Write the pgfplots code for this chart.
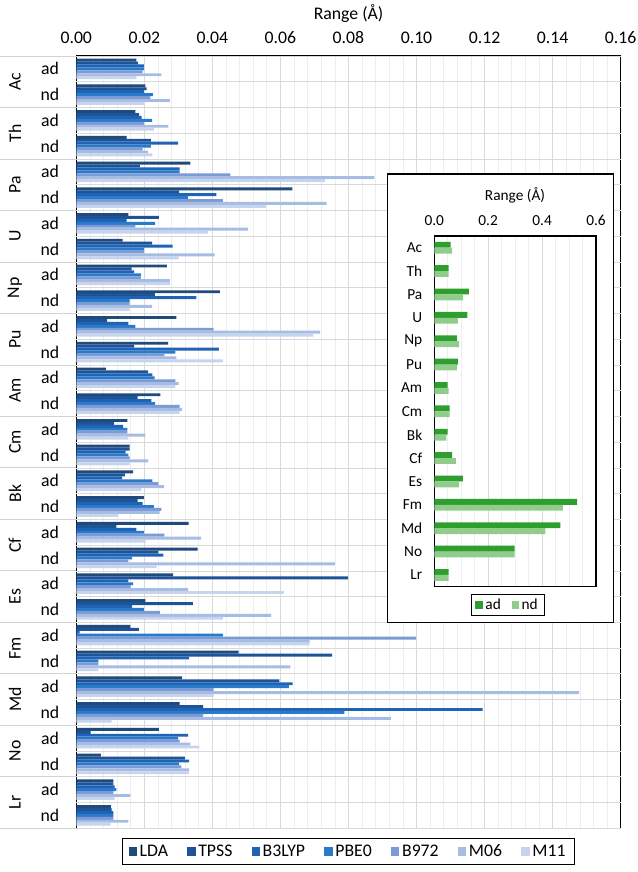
\documentclass[border=0pt]{standalone}
\usepackage{fontspec}
\setmainfont{Carlito}
\usepackage{pgfplots}
\pgfplotsset{compat=1.18}
\usepackage{pgfplotstable}

\definecolor{cLDA}{HTML}{1F4A7C}
\definecolor{cTPSS}{HTML}{1E5398}
\definecolor{cBL}{HTML}{1F63B5}
\definecolor{cPBE}{HTML}{2A7ACC}
\definecolor{cB97}{HTML}{7B9AD6}
\definecolor{cMA}{HTML}{A7BCE3}
\definecolor{cMB}{HTML}{C6D4EE}
\definecolor{gad}{HTML}{2E9E2E}
\definecolor{gnd}{HTML}{90CC8C}

% y: 29 = Ac ad (top) ... 0 = Lr nd (bottom)
\pgfplotstableread{
y LDA TPSS B3LYP PBE0 B972 M06 M11
29 0.0177 0.0182 0.0199 0.0199 0.0195 0.0250 0.0177
28 0.0203 0.0207 0.0199 0.0225 0.0218 0.0275 0.0199
27 0.0174 0.0185 0.0192 0.0223 0.0199 0.0271 0.0228
26 0.0148 0.0219 0.0299 0.0219 0.0195 0.0211 0.0224
25 0.0335 0.0187 0.0304 0.0304 0.0453 0.0876 0.0731
24 0.0635 0.0302 0.0412 0.0329 0.0431 0.0736 0.0558
23 0.0153 0.0243 0.0148 0.0232 0.0174 0.0505 0.0387
22 0.0136 0.0223 0.0283 0.0199 0.0199 0.0407 0.0301
21 0.0266 0.0163 0.0170 0.0190 0.0190 0.0275 0.0275
20 0.0422 0.0231 0.0353 0.0157 0.0157 0.0223 0.0157
19 0.0294 0.0091 0.0153 0.0174 0.0404 0.0717 0.0697
18 0.0270 0.0170 0.0419 0.0291 0.0259 0.0294 0.0431
17 0.0087 0.0211 0.0224 0.0230 0.0291 0.0301 0.0291
16 0.0247 0.0180 0.0221 0.0232 0.0304 0.0311 0.0304
15 0.0150 0.0111 0.0138 0.0150 0.0150 0.0203 0.0153
14 0.0157 0.0157 0.0145 0.0153 0.0157 0.0211 0.0157
13 0.0167 0.0143 0.0135 0.0224 0.0241 0.0258 0.0191
12 0.0199 0.0180 0.0195 0.0228 0.0250 0.0245 0.0124
11 0.0330 0.0118 0.0177 0.0199 0.0259 0.0367 0.0204
10 0.0357 0.0241 0.0256 0.0164 0.0153 0.0760 0.0236
9 0.0285 0.0798 0.0153 0.0167 0.0160 0.0329 0.0610
8 0.0203 0.0343 0.0164 0.0199 0.0246 0.0573 0.0431
7 0.0159 0.0184 0.0010 0.0431 0.0999 0.0686 0.0686
6 0.0477 0.0752 0.0332 0.0065 0.0065 0.0629 0.0065
5 0.0311 0.0597 0.0636 0.0625 0.0404 0.1478 0.0404
4 0.0304 0.0373 0.1194 0.0788 0.0373 0.0925 0.0104
3 0.0243 0.0042 0.0329 0.0299 0.0304 0.0335 0.0362
2 0.0072 0.0319 0.0332 0.0302 0.0309 0.0332 0.0332
1 0.0109 0.0109 0.0113 0.0118 0.0109 0.0159 0.0113
0 0.0102 0.0104 0.0109 0.0109 0.0109 0.0153 0.0101
}\maindata

% y: 14 = Ac ... 0 = Lr
\pgfplotstableread{
y ad nd
14 0.061 0.066
13 0.053 0.053
12 0.128 0.106
11 0.123 0.088
10 0.084 0.092
9 0.088 0.084
8 0.050 0.053
7 0.057 0.057
6 0.050 0.045
5 0.066 0.080
4 0.106 0.092
3 0.530 0.477
2 0.468 0.412
1 0.298 0.298
0 0.053 0.053
}\insetdata

\newcommand{\fmain}{\fontsize{13.3}{15}\selectfont}
\newcommand{\finset}{\fontsize{11.5}{13}\selectfont}

\begin{document}
\begin{tikzpicture}
\useasboundingbox (0pt,0pt) rectangle (477.75pt,-654pt);

\begin{axis}[
  at={(57.2pt,-42pt)}, anchor=north west,
  scale only axis, width=408.3pt, height=579.2pt,
  xmin=0, xmax=0.16, ymin=-0.5, ymax=29.5,
  xtick={0,0.02,...,0.16},
  xticklabel pos=upper,
  minor x tick num=4,
  xmajorgrids, xminorgrids,
  major grid style={draw=gray!30, line width=0.5pt},
  minor grid style={draw=gray!13, line width=0.5pt},
  ytick={0,...,29},
  yticklabels={nd,ad,nd,ad,nd,ad,nd,ad,nd,ad,nd,ad,nd,ad,nd,ad,nd,ad,nd,ad,nd,ad,nd,ad,nd,ad,nd,ad,nd,ad},
  extra y ticks={-0.5,0.5,...,29.5},
  extra y tick labels={},
  extra y tick style={grid=major, major grid style={draw=gray!30, line width=0.5pt}},
  major tick length=0pt, minor tick length=0pt,
  axis line style={black, line width=0.9pt},
  /pgf/number format/assume math mode=true,
  tick label style={font=\fmain},
  xticklabel style={/pgf/number format/fixed, /pgf/number format/fixed zerofill, /pgf/number format/precision=2, yshift=6pt},
  yticklabel style={anchor=center, xshift=-19.7pt},
  clip=false,
  legend columns=7,
  legend style={at={(0.5,-0.0126)}, anchor=north, draw=black, line width=0.8pt, font=\fmain,
    inner xsep=5pt, inner ysep=2.5pt,
    /tikz/every even column/.append style={column sep=12.5pt}},
  every axis plot post/.append style={legend image code/.code={\fill[##1] (0pt,-3.1pt) rectangle (6.2pt,3.1pt);}},
]
\addplot[xbar, bar width=2.2pt, bar shift=6.6pt, fill=cLDA, draw=none] table[x=LDA, y=y]{\maindata};
\addlegendentry{LDA}
\addplot[xbar, bar width=2.2pt, bar shift=4.4pt, fill=cTPSS, draw=none] table[x=TPSS, y=y]{\maindata};
\addlegendentry{TPSS}
\addplot[xbar, bar width=2.2pt, bar shift=2.2pt, fill=cBL, draw=none] table[x=B3LYP, y=y]{\maindata};
\addlegendentry{B3LYP}
\addplot[xbar, bar width=2.2pt, bar shift=0pt, fill=cPBE, draw=none] table[x=PBE0, y=y]{\maindata};
\addlegendentry{PBE0}
\addplot[xbar, bar width=2.2pt, bar shift=-2.2pt, fill=cB97, draw=none] table[x=B972, y=y]{\maindata};
\addlegendentry{B972}
\addplot[xbar, bar width=2.2pt, bar shift=-4.4pt, fill=cMA, draw=none] table[x=M06, y=y]{\maindata};
\addlegendentry{M06}
\addplot[xbar, bar width=2.2pt, bar shift=-6.6pt, fill=cMB, draw=none] table[x=M11, y=y]{\maindata};
\addlegendentry{M11}

\node[rotate=90, font=\fmain] at ([xshift=-46pt]axis cs:0,28.5) {Ac};
\node[rotate=90, font=\fmain] at ([xshift=-46pt]axis cs:0,26.5) {Th};
\node[rotate=90, font=\fmain] at ([xshift=-46pt]axis cs:0,24.5) {Pa};
\node[rotate=90, font=\fmain] at ([xshift=-46pt]axis cs:0,22.5) {U};
\node[rotate=90, font=\fmain] at ([xshift=-46pt]axis cs:0,20.5) {Np};
\node[rotate=90, font=\fmain] at ([xshift=-46pt]axis cs:0,18.5) {Pu};
\node[rotate=90, font=\fmain] at ([xshift=-46pt]axis cs:0,16.5) {Am};
\node[rotate=90, font=\fmain] at ([xshift=-46pt]axis cs:0,14.5) {Cm};
\node[rotate=90, font=\fmain] at ([xshift=-46pt]axis cs:0,12.5) {Bk};
\node[rotate=90, font=\fmain] at ([xshift=-46pt]axis cs:0,10.5) {Cf};
\node[rotate=90, font=\fmain] at ([xshift=-46pt]axis cs:0,8.5) {Es};
\node[rotate=90, font=\fmain] at ([xshift=-46pt]axis cs:0,6.5) {Fm};
\node[rotate=90, font=\fmain] at ([xshift=-46pt]axis cs:0,4.5) {Md};
\node[rotate=90, font=\fmain] at ([xshift=-46pt]axis cs:0,2.5) {No};
\node[rotate=90, font=\fmain] at ([xshift=-46pt]axis cs:0,0.5) {Lr};

\draw[gray!35, line width=0.6pt] (axis cs:0,29.5) -- ++(-57.2pt,0pt);
\draw[gray!35, line width=0.6pt] (axis cs:0,27.5) -- ++(-57.2pt,0pt);
\draw[gray!35, line width=0.6pt] (axis cs:0,25.5) -- ++(-57.2pt,0pt);
\draw[gray!35, line width=0.6pt] (axis cs:0,23.5) -- ++(-57.2pt,0pt);
\draw[gray!35, line width=0.6pt] (axis cs:0,21.5) -- ++(-57.2pt,0pt);
\draw[gray!35, line width=0.6pt] (axis cs:0,19.5) -- ++(-57.2pt,0pt);
\draw[gray!35, line width=0.6pt] (axis cs:0,17.5) -- ++(-57.2pt,0pt);
\draw[gray!35, line width=0.6pt] (axis cs:0,15.5) -- ++(-57.2pt,0pt);
\draw[gray!35, line width=0.6pt] (axis cs:0,13.5) -- ++(-57.2pt,0pt);
\draw[gray!35, line width=0.6pt] (axis cs:0,11.5) -- ++(-57.2pt,0pt);
\draw[gray!35, line width=0.6pt] (axis cs:0,9.5) -- ++(-57.2pt,0pt);
\draw[gray!35, line width=0.6pt] (axis cs:0,7.5) -- ++(-57.2pt,0pt);
\draw[gray!35, line width=0.6pt] (axis cs:0,5.5) -- ++(-57.2pt,0pt);
\draw[gray!35, line width=0.6pt] (axis cs:0,3.5) -- ++(-57.2pt,0pt);
\draw[gray!35, line width=0.6pt] (axis cs:0,1.5) -- ++(-57.2pt,0pt);
\draw[gray!35, line width=0.6pt] (axis cs:0,-0.5) -- ++(-57.2pt,0pt);
\end{axis}

\node[font=\fmain] at (261.4pt,-10.5pt) {Range (Å)};

% inset
\filldraw[fill=white, draw=black, line width=0.9pt] (290.5pt,-130.5pt) rectangle (460pt,-466.7pt);
\node[font=\finset] at (386.25pt,-146.25pt) {Range (Å)};

\begin{axis}[
  at={(325.7pt,-177pt)}, anchor=north west,
  scale only axis, width=121.3pt, height=263pt,
  xmin=0, xmax=0.6, ymin=-0.5, ymax=14.5,
  xtick={0,0.2,0.4,0.6},
  xticklabel pos=upper,
  minor x tick num=3,
  xmajorgrids, xminorgrids,
  major grid style={draw=gray!30, line width=0.5pt},
  minor grid style={draw=gray!13, line width=0.5pt},
  ytick={0,...,14},
  yticklabels={Lr,No,Md,Fm,Es,Cf,Bk,Cm,Am,Pu,Np,U,Pa,Th,Ac},
  major tick length=0pt, minor tick length=0pt,
  axis line style={black, line width=0.8pt},
  /pgf/number format/assume math mode=true,
  tick label style={font=\finset},
  xticklabel style={/pgf/number format/fixed, /pgf/number format/fixed zerofill, /pgf/number format/precision=1, yshift=4pt},
  yticklabel style={xshift=-5.5pt},
  legend columns=2,
  legend style={at={(0.455,-0.0217)}, anchor=north, draw=black, line width=0.8pt, font=\finset,
    inner xsep=3pt, inner ysep=1pt,
    /tikz/every even column/.append style={column sep=6pt}},
  every axis plot post/.append style={legend image code/.code={\fill[##1] (0pt,-2.8pt) rectangle (5.6pt,2.8pt);}},
]
\addplot[xbar, bar width=4.4pt, bar shift=2.2pt, fill=gad, draw=none] table[x=ad, y=y]{\insetdata};
\addlegendentry{ad}
\addplot[xbar, bar width=4.4pt, bar shift=-2.2pt, fill=gnd, draw=none] table[x=nd, y=y]{\insetdata};
\addlegendentry{nd}
\end{axis}
\end{tikzpicture}
\end{document}
